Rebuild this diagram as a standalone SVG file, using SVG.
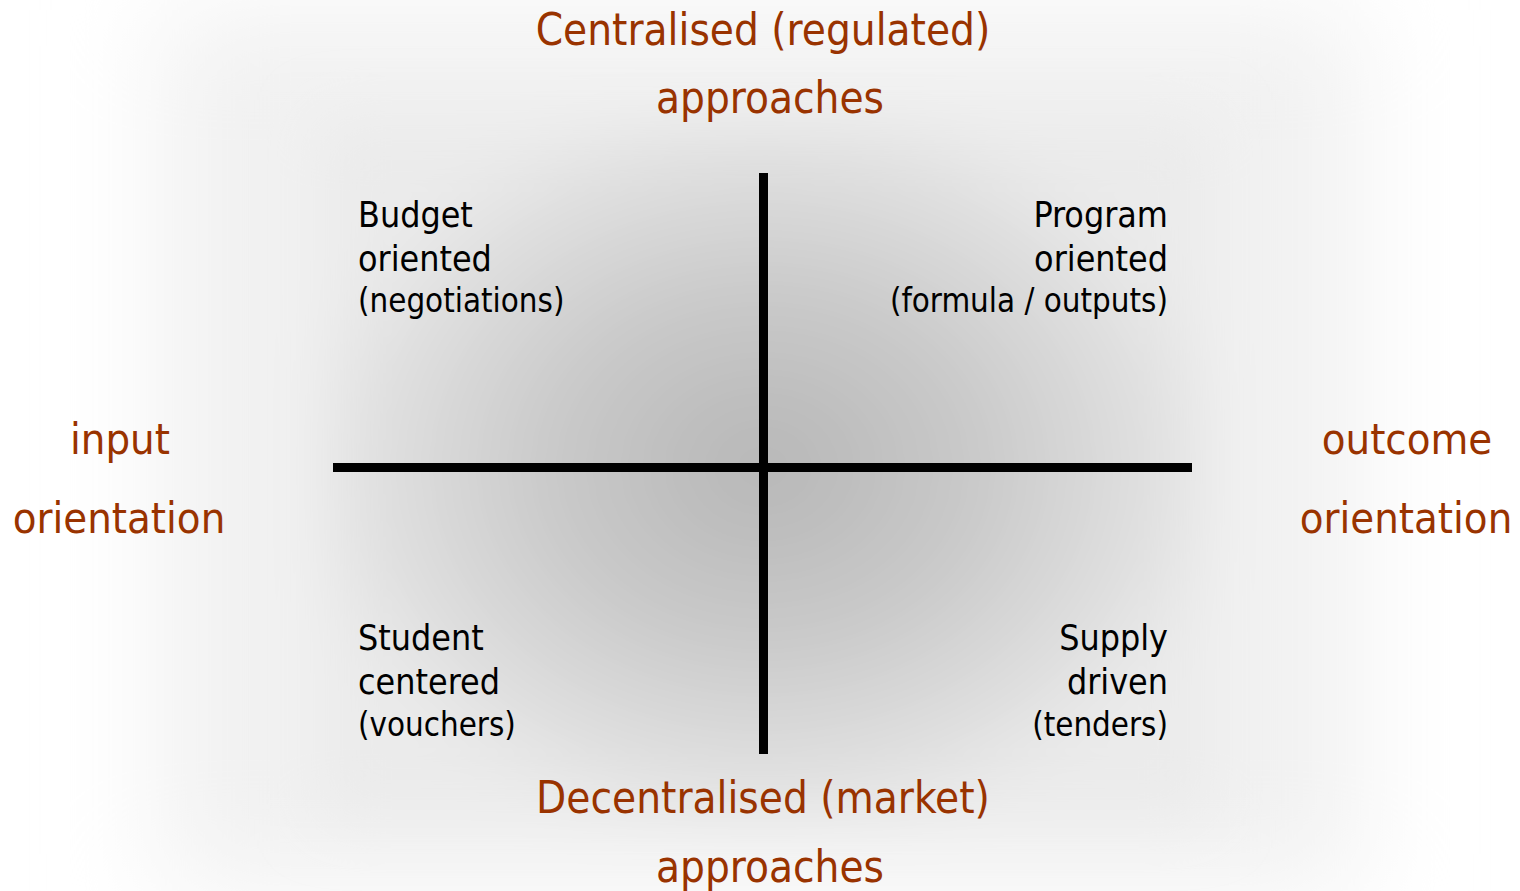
<svg xmlns="http://www.w3.org/2000/svg" width="1520" height="891" viewBox="0 0 1520 891">
  <defs>
    <filter id="softOuter" x="-20%" y="-20%" width="140%" height="140%">
      <feGaussianBlur stdDeviation="55"/>
    </filter>
    <filter id="softInner" x="-20%" y="-20%" width="140%" height="140%">
      <feGaussianBlur stdDeviation="30"/>
    </filter>
    <radialGradient id="centreShade" gradientUnits="userSpaceOnUse" cx="763" cy="467" r="470" gradientTransform="translate(763 467) scale(1 0.8) translate(-763 -467)">
      <stop offset="0" stop-color="#b6b6b6"/>
      <stop offset="0.45" stop-color="#c9c9c9"/>
      <stop offset="1" stop-color="#ebebeb"/>
    </radialGradient>
    <style>
      .axis { stroke: #000; stroke-width: 9; fill: none; }
      .pole { font-family: "DejaVu Sans Condensed", "DejaVu Sans", sans-serif; font-size: 43.6px; fill: #993300; text-anchor: middle; }
      .side { font-size: 43.2px; }
      .head { font-family: "DejaVu Sans Condensed", "DejaVu Sans", sans-serif; font-size: 35.5px; fill: #000; }
      .sub { font-family: "DejaVu Sans Condensed", "DejaVu Sans", sans-serif; font-size: 32.8px; fill: #000; }
      .end { text-anchor: end; }
    </style>
  </defs>

  <!-- backdrop: white page with a soft grey glow behind the quadrants -->
  <rect x="0" y="0" width="1520" height="891" fill="#ffffff"/>
  <rect x="160" y="10" width="1200" height="880" fill="#f1f1f1" filter="url(#softOuter)"/>
  <rect x="320" y="120" width="890" height="700" fill="url(#centreShade)" filter="url(#softInner)"/>

  <!-- axes -->
  <g id="connectors">
    <line class="axis" x1="763.5" y1="173" x2="763.5" y2="754"/>
    <line class="axis" x1="333" y1="467.5" x2="1192" y2="467.5"/>
  </g>

  <!-- pole labels -->
  <g id="top-pole">
    <text class="pole" x="763" y="45">Centralised (regulated)</text>
    <text class="pole" x="770" y="113">approaches</text>
  </g>
  <g id="bottom-pole">
    <text class="pole" x="763" y="813">Decentralised (market)</text>
    <text class="pole" x="770" y="882">approaches</text>
  </g>
  <g id="left-pole">
    <text class="pole side" x="120" y="454">input</text>
    <text class="pole side" x="119" y="533">orientation</text>
  </g>
  <g id="right-pole">
    <text class="pole side" x="1407" y="454">outcome</text>
    <text class="pole side" x="1406" y="533">orientation</text>
  </g>

  <!-- quadrant labels -->
  <g id="budget-oriented">
    <text class="head" x="358" y="227">Budget</text>
    <text class="head" x="358" y="271">oriented</text>
    <text class="sub" x="358" y="312">(negotiations)</text>
  </g>
  <g id="program-oriented">
    <text class="head end" x="1168" y="227">Program</text>
    <text class="head end" x="1168" y="271">oriented</text>
    <text class="sub end" x="1168" y="312">(formula / outputs)</text>
  </g>
  <g id="student-centered">
    <text class="head" x="358" y="650">Student</text>
    <text class="head" x="358" y="694">centered</text>
    <text class="sub" x="358" y="736">(vouchers)</text>
  </g>
  <g id="supply-driven">
    <text class="head end" x="1168" y="650">Supply</text>
    <text class="head end" x="1168" y="694">driven</text>
    <text class="sub end" x="1168" y="736">(tenders)</text>
  </g>
</svg>
